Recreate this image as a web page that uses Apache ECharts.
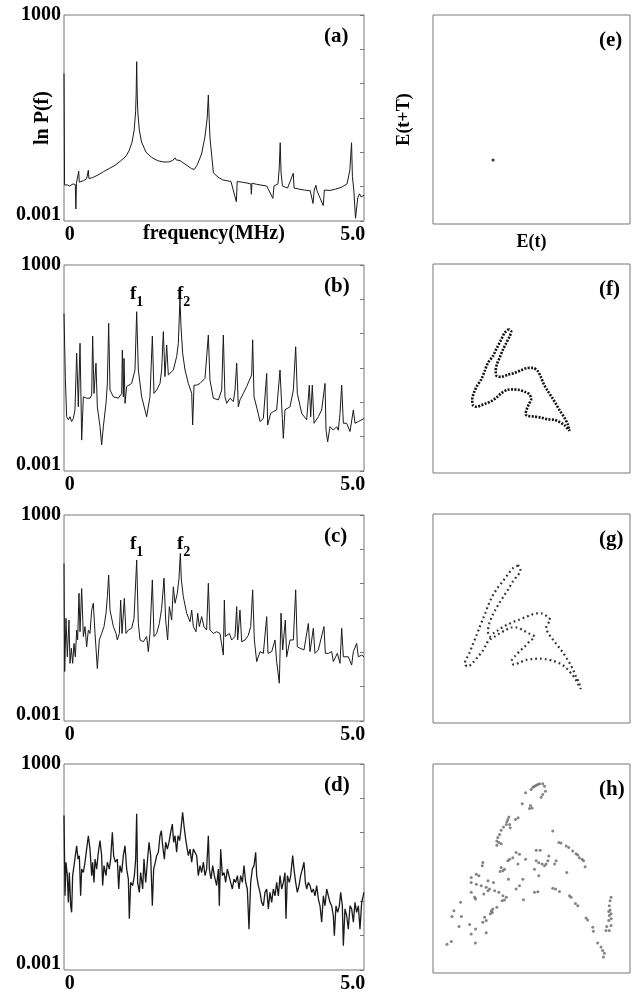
<!DOCTYPE html>
<html><head><meta charset="utf-8">
<script src="https://cdn.jsdelivr.net/npm/echarts@6/dist/echarts.min.js"></script>
<style>html,body{margin:0;padding:0;background:#fff}#c{width:639px;height:994px}</style>
</head><body><div id="c"></div>
<script>
// ---- spectra: [frequency (MHz), log10 P(f)] ----
const specA = [[-0.100,1.30],[-0.090,-1.95],[-0.040,-1.95],[0.000,-1.98],[0.060,-1.92],[0.100,-1.94],[0.110,-2.65],[0.120,-1.90],[0.150,-1.89],[0.160,-1.55],[0.170,-1.87],[0.250,-1.82],[0.300,-1.77],[0.330,-1.52],[0.340,-1.76],[0.400,-1.74],[0.500,-1.66],[0.600,-1.56],[0.700,-1.47],[0.800,-1.38],[0.900,-1.25],[0.950,-1.18],[1.000,-1.10],[1.050,-0.95],[1.100,-0.72],[1.140,-0.35],[1.165,0.18],[1.175,0.70],[1.184,1.64],[1.193,0.70],[1.205,0.15],[1.230,-0.35],[1.270,-0.70],[1.350,-1.00],[1.450,-1.15],[1.550,-1.24],[1.650,-1.28],[1.750,-1.28],[1.820,-1.24],[1.860,-1.16],[1.880,-1.22],[1.950,-1.24],[2.000,-1.30],[2.070,-1.38],[2.150,-1.47],[2.200,-1.50],[2.250,-1.38],[2.330,-1.05],[2.390,-0.55],[2.430,0.00],[2.450,0.67],[2.465,-0.05],[2.480,-0.60],[2.540,-1.60],[2.620,-1.72],[2.700,-1.80],[2.850,-1.85],[2.945,-2.44],[2.960,-1.85],[3.050,-1.87],[3.150,-1.90],[3.200,-1.92],[3.210,-2.22],[3.220,-1.90],[3.300,-1.93],[3.400,-1.96],[3.480,-1.98],[3.590,-2.34],[3.610,-1.98],[3.680,-1.92],[3.700,-1.52],[3.720,-0.72],[3.735,-1.60],[3.760,-1.98],[3.850,-2.04],[3.950,-1.61],[3.965,-2.04],[4.050,-2.07],[4.150,-2.10],[4.250,-2.12],[4.300,-2.49],[4.320,-2.10],[4.350,-1.96],[4.370,-2.12],[4.480,-2.55],[4.500,-2.10],[4.600,-2.11],[4.700,-2.07],[4.800,-2.02],[4.900,-1.92],[4.950,-1.52],[4.980,-0.72],[4.995,-1.70],[5.020,-2.10],[5.050,-2.92],[5.070,-2.88],[5.090,-2.32],[5.120,-2.21],[5.150,-2.30],[5.200,-2.25]];

const specB = [[-0.100,1.59],[-0.076,-0.30],[-0.053,-1.42],[-0.023,-1.51],[0.006,-1.42],[0.035,-1.56],[0.065,-1.47],[0.094,-1.22],[0.124,0.43],[0.153,-1.13],[0.183,0.72],[0.200,-0.84],[0.212,-2.10],[0.242,-0.84],[0.300,-0.88],[0.359,-0.88],[0.389,-0.79],[0.406,0.93],[0.430,-0.74],[0.465,0.14],[0.489,-1.13],[0.536,-1.71],[0.565,-2.24],[0.595,-1.71],[0.642,-1.03],[0.666,-0.45],[0.689,1.30],[0.713,-0.64],[0.772,-0.84],[0.860,-0.88],[0.919,-0.74],[0.931,0.52],[0.948,-0.84],[0.960,0.28],[0.978,-1.03],[1.007,-0.54],[1.095,-0.45],[1.154,-0.06],[1.184,1.64],[1.213,-0.06],[1.272,-0.84],[1.360,-1.42],[1.390,-1.47],[1.419,-0.84],[1.461,0.93],[1.490,-0.74],[1.537,-0.64],[1.596,-0.45],[1.625,-0.06],[1.655,1.06],[1.684,-0.25],[1.714,0.67],[1.743,-0.20],[1.832,-0.06],[1.890,0.33],[1.920,0.72],[1.949,2.03],[1.967,1.20],[1.996,0.43],[2.038,-0.06],[2.097,-0.45],[2.156,-0.74],[2.173,-1.66],[2.197,-0.50],[2.244,-0.50],[2.303,-0.45],[2.391,-0.30],[2.450,0.96],[2.479,-0.35],[2.538,-0.88],[2.627,-0.93],[2.686,-0.64],[2.715,0.96],[2.744,-0.84],[2.774,-1.03],[2.833,-0.88],[2.892,-0.98],[2.921,-0.64],[2.951,0.14],[2.980,-1.13],[3.009,-0.93],[3.068,-0.74],[3.127,-0.54],[3.216,-0.20],[3.233,0.82],[3.257,-0.84],[3.316,-1.22],[3.363,-1.56],[3.422,-1.47],[3.481,-0.16],[3.498,-1.66],[3.551,-1.32],[3.598,-1.27],[3.657,-1.22],[3.716,-0.06],[3.757,-1.47],[3.775,-2.05],[3.804,-1.22],[3.893,-1.13],[3.952,-0.64],[3.993,0.62],[4.022,-0.74],[4.099,-1.32],[4.187,-1.51],[4.234,-0.50],[4.258,-1.42],[4.287,-0.50],[4.317,-1.61],[4.393,-1.42],[4.452,-1.22],[4.511,-0.45],[4.529,-1.81],[4.558,-2.15],[4.599,-1.71],[4.658,-1.81],[4.717,-1.71],[4.747,-1.81],[4.776,-1.32],[4.806,-0.50],[4.835,-1.61],[4.894,-1.61],[4.953,-1.85],[5.012,-1.22],[5.041,-1.61],[5.100,-1.56],[5.200,-1.47]];

const specC = [[-0.100,1.59],[-0.088,-1.56],[-0.065,-0.01],[-0.041,-1.13],[-0.012,-0.06],[0.006,-1.32],[0.030,-0.88],[0.053,-1.32],[0.077,-0.74],[0.100,-1.13],[0.124,-0.35],[0.141,-0.64],[0.165,0.72],[0.183,-0.40],[0.212,0.86],[0.242,-0.54],[0.271,-0.25],[0.300,-0.84],[0.330,-0.35],[0.359,-0.45],[0.389,0.23],[0.418,0.43],[0.448,-0.45],[0.489,-1.47],[0.524,-0.64],[0.565,-0.45],[0.607,-0.25],[0.642,0.14],[0.666,0.62],[0.689,1.25],[0.713,0.23],[0.772,-0.25],[0.819,-0.45],[0.842,-0.64],[0.878,-0.45],[0.901,0.52],[0.925,-0.45],[0.966,0.57],[0.995,-0.45],[1.037,-0.35],[1.095,-0.30],[1.137,-0.01],[1.184,1.69],[1.213,-0.16],[1.243,-0.64],[1.302,-0.69],[1.360,-0.54],[1.390,-0.98],[1.419,-0.45],[1.461,1.11],[1.490,-0.54],[1.537,-0.45],[1.584,-0.16],[1.625,0.28],[1.667,1.16],[1.696,-0.06],[1.731,-0.64],[1.761,0.33],[1.802,-0.06],[1.832,0.91],[1.861,0.43],[1.902,0.72],[1.932,1.16],[1.955,1.88],[1.973,1.11],[2.008,0.62],[2.067,0.14],[2.126,-0.11],[2.156,0.23],[2.185,-0.25],[2.232,-0.40],[2.262,0.14],[2.291,-0.25],[2.332,0.04],[2.373,-0.25],[2.420,-0.35],[2.450,1.01],[2.479,-0.35],[2.538,-0.45],[2.597,-0.40],[2.656,-0.45],[2.715,-1.08],[2.733,0.52],[2.750,-0.54],[2.821,-0.45],[2.862,-0.64],[2.921,-0.54],[2.951,0.33],[2.968,-0.64],[3.009,0.23],[3.039,-0.69],[3.098,-0.64],[3.157,-0.50],[3.198,-0.25],[3.233,0.82],[3.263,-0.64],[3.304,-1.27],[3.363,-0.98],[3.422,-1.03],[3.481,0.04],[3.504,-1.03],[3.569,-0.98],[3.628,-0.64],[3.657,-1.27],[3.704,-1.90],[3.734,0.14],[3.763,-0.93],[3.810,-0.06],[3.834,-1.13],[3.893,-0.64],[3.952,-0.64],[3.993,0.82],[4.022,-0.84],[4.069,-0.88],[4.140,-0.93],[4.217,-0.16],[4.246,-0.98],[4.305,-0.30],[4.334,-1.03],[4.393,-0.93],[4.493,-0.25],[4.517,-1.03],[4.570,-1.03],[4.629,-0.98],[4.658,-1.27],[4.729,-1.03],[4.776,-1.32],[4.806,-0.30],[4.835,-1.13],[4.923,-1.13],[4.982,-1.37],[5.012,-0.98],[5.070,-0.74],[5.100,-1.13],[5.159,-1.08],[5.200,-1.13]];

const specD = [[-0.100,1.50],[-0.082,-0.84],[-0.065,0.14],[-0.041,-0.25],[-0.023,-1.03],[-0.006,-0.16],[0.018,-1.13],[0.035,-1.32],[0.053,-0.25],[0.077,0.04],[0.100,0.33],[0.124,0.62],[0.147,0.23],[0.171,0.33],[0.194,-0.84],[0.212,-0.06],[0.242,-0.16],[0.271,0.14],[0.300,0.52],[0.330,0.91],[0.359,0.52],[0.389,-0.25],[0.406,0.14],[0.430,-0.45],[0.448,0.23],[0.477,-0.06],[0.507,0.43],[0.536,0.77],[0.565,0.33],[0.583,-0.54],[0.607,0.04],[0.642,-0.25],[0.666,0.14],[0.701,-0.06],[0.724,0.23],[0.754,1.01],[0.777,0.33],[0.807,0.14],[0.842,0.23],[0.866,-0.64],[0.889,0.04],[0.919,-0.16],[0.948,0.33],[0.978,0.62],[1.007,-0.06],[1.037,-0.35],[1.054,-1.51],[1.078,-0.45],[1.113,-0.54],[1.143,-0.25],[1.166,0.23],[1.184,1.55],[1.201,-0.45],[1.231,-0.74],[1.254,-0.16],[1.290,-0.64],[1.313,0.23],[1.343,-0.45],[1.372,0.14],[1.402,0.72],[1.431,0.33],[1.461,-1.13],[1.484,-0.06],[1.514,0.14],[1.537,0.33],[1.567,0.43],[1.596,0.91],[1.620,1.06],[1.643,0.62],[1.673,0.23],[1.696,0.72],[1.726,0.52],[1.755,0.72],[1.784,1.01],[1.814,1.25],[1.837,0.72],[1.861,0.91],[1.890,0.43],[1.914,0.91],[1.943,0.77],[1.967,1.11],[1.996,1.59],[2.020,1.20],[2.049,0.82],[2.067,0.62],[2.097,0.33],[2.126,0.52],[2.156,0.14],[2.185,0.52],[2.214,0.43],[2.244,0.33],[2.273,-0.25],[2.303,0.04],[2.332,-0.16],[2.362,0.14],[2.391,-0.25],[2.420,-0.06],[2.450,0.91],[2.468,-0.06],[2.497,-0.35],[2.527,0.04],[2.556,-0.25],[2.597,-0.54],[2.627,-0.06],[2.644,-1.13],[2.668,0.52],[2.697,-0.25],[2.727,-0.16],[2.756,-0.45],[2.786,-0.06],[2.815,-0.25],[2.844,-0.45],[2.874,-0.64],[2.903,-0.35],[2.933,-0.45],[2.962,-0.25],[2.992,-0.64],[3.021,-0.25],[3.051,-0.45],[3.080,0.04],[3.110,-0.45],[3.139,-0.64],[3.168,-1.81],[3.198,-0.45],[3.227,-0.06],[3.257,0.04],[3.286,0.43],[3.304,-0.25],[3.333,-0.54],[3.363,-0.74],[3.392,-1.03],[3.422,-1.13],[3.451,-0.74],[3.481,-0.64],[3.510,-1.22],[3.539,-0.74],[3.569,-1.03],[3.598,-0.64],[3.628,-0.84],[3.657,-0.45],[3.687,-0.84],[3.716,-0.25],[3.746,-0.64],[3.775,-0.45],[3.804,-0.16],[3.822,-1.51],[3.846,-0.25],[3.881,-0.45],[3.905,-0.25],[3.940,0.33],[3.963,-0.06],[3.993,-0.45],[4.022,-0.74],[4.052,-0.54],[4.081,-0.25],[4.111,-0.06],[4.140,0.14],[4.164,-0.45],[4.187,-0.64],[4.217,-0.45],[4.246,-0.54],[4.276,-0.74],[4.305,-0.64],[4.334,-0.84],[4.364,-0.54],[4.393,-0.93],[4.423,-1.13],[4.452,-1.61],[4.482,-0.84],[4.511,-1.13],[4.541,-0.64],[4.570,-0.84],[4.599,-1.03],[4.629,-1.13],[4.658,-1.42],[4.676,-2.00],[4.705,-1.13],[4.735,-1.32],[4.764,-1.13],[4.788,-0.74],[4.817,-1.13],[4.835,-2.29],[4.864,-1.22],[4.894,-1.42],[4.923,-1.81],[4.953,-1.13],[4.982,-1.22],[5.012,-1.61],[5.041,-1.03],[5.070,-1.32],[5.100,-1.13],[5.129,-1.81],[5.159,-1.03],[5.200,-0.74]];

// ---- phase portraits: [E(t), E(t+T)] in arbitrary units 0..100 ----
const pointE = [[30.5, 30.6]];

const loopF = [[38.5,68.9],[36.3,67.0],[34.6,63.8],[32.4,59.8],[30.4,55.9],[27.9,52.7],[26.2,48.7],[24.5,44.8],[22.3,41.6],[20.8,38.4],[19.9,35.2],[20.3,32.4],[22.0,31.7],[24.5,32.4],[27.0,33.3],[29.6,34.4],[32.1,36.0],[34.6,38.1],[37.5,39.7],[40.5,40.0],[43.9,39.7],[47.0,38.7],[49.0,37.6],[49.8,35.2],[48.6,32.9],[47.6,30.5],[47.0,28.1],[48.1,27.3],[51.5,27.0],[54.9,26.5],[58.3,25.7],[61.7,25.4],[64.2,24.4],[66.7,22.9],[69.3,20.2],[68.4,23.3],[66.7,26.5],[64.5,29.7],[62.5,32.9],[60.5,36.0],[58.3,39.2],[56.3,42.4],[54.9,45.6],[53.2,48.7],[50.7,50.3],[47.6,50.2],[44.8,49.2],[41.4,47.9],[38.0,47.0],[34.6,46.0],[32.4,46.3],[31.8,48.7],[32.4,51.9],[33.8,55.1],[35.5,59.0],[37.2,62.2],[38.9,65.4],[39.7,67.8],[38.5,68.9]];

const loopG = [[43.1,75.4],[40.5,74.0],[38.0,71.1],[35.5,67.9],[32.9,64.8],[30.7,61.6],[29.1,58.7],[27.9,56.0],[26.7,52.9],[25.3,49.7],[23.6,45.7],[22.0,41.7],[20.3,37.8],[18.6,33.8],[16.9,30.6],[16.0,28.3],[17.7,27.0],[20.3,29.0],[22.8,31.7],[25.3,34.6],[27.0,37.5],[28.4,39.7],[31.3,41.3],[33.8,42.9],[36.8,44.4],[39.7,45.7],[42.6,45.7],[45.6,44.4],[48.6,42.9],[51.5,41.3],[49.0,39.0],[46.5,36.5],[43.9,34.3],[41.7,32.1],[40.0,29.8],[41.0,27.9],[43.9,28.9],[47.3,30.2],[50.7,30.6],[54.1,30.8],[57.4,30.5],[60.8,29.8],[63.9,28.7],[66.4,27.3],[68.6,25.4],[70.6,23.2],[72.3,21.0],[73.6,18.7],[75.0,16.3],[74.0,19.5],[72.6,22.2],[71.3,25.1],[69.8,27.9],[68.1,30.6],[66.2,33.3],[64.2,35.9],[62.2,38.3],[60.3,40.6],[58.6,42.9],[57.4,45.4],[58.4,47.6],[59.6,49.2],[57.8,51.1],[55.4,52.4],[52.4,52.5],[49.5,51.6],[46.5,50.5],[43.6,49.4],[40.9,48.4],[38.2,47.3],[35.5,46.0],[33.1,44.4],[30.7,42.9],[28.7,41.3],[27.9,44.1],[28.7,48.1],[30.1,51.3],[31.8,54.4],[33.8,57.6],[36.0,60.8],[38.2,64.0],[40.5,67.6],[42.7,70.3],[44.4,72.7],[43.9,74.9],[43.1,75.4]];

const pointsH = [[47.0,86.2],[49.8,87.8],[50.7,88.9],[51.5,89.4],[52.4,89.8],[53.2,90.2],[54.1,90.5],[55.7,90.6],[56.6,89.4],[57.1,87.0],[54.9,84.1],[55.7,85.4],[49.5,80.2],[49.0,78.7],[50.3,79.0],[45.3,81.0],[43.2,74.3],[41.9,73.5],[38.5,74.6],[38.0,73.5],[37.5,72.4],[38.9,71.1],[39.2,69.5],[37.2,71.1],[35.8,69.8],[34.6,68.3],[33.8,66.3],[32.9,64.8],[32.4,63.2],[33.4,62.4],[32.4,61.1],[34.6,61.9],
[60.8,67.9],[63.9,62.4],[65.0,62.2],[67.6,60.8],[68.9,60.0],[70.9,58.4],[72.6,57.1],[73.5,56.5],[74.3,55.2],[75.7,54.4],[76.4,53.7],[77.2,50.8],[67.9,48.1],
[52.4,58.7],[54.4,58.7],[58.8,56.0],[52.4,53.7],[53.7,52.7],[55.4,52.1],[56.6,51.3],[57.4,52.1],[58.3,53.7],[62.5,53.7],[61.7,52.1],[51.5,49.7],[53.7,46.5],[43.9,56.8],[42.2,57.6],[38.9,54.4],[40.5,55.2],[38.0,53.7],[43.1,52.1],[47.0,54.4],[34.6,50.5],[35.5,48.9],[34.1,48.6],[36.3,49.7],[38.3,44.9],[45.6,44.9],[42.2,40.2],[43.9,41.7],[25.3,52.9],[25.0,51.3],[22.0,47.3],[19.4,45.7],[19.4,43.3],[23.3,46.5],[22.0,42.5],[27.9,44.1],[30.7,43.3],[24.5,41.7],[27.0,41.0],[28.7,40.2],[27.9,39.4],[31.3,39.4],[33.4,38.6],[19.4,38.6],[21.1,36.2],[21.6,35.4],[25.8,37.8],[35.5,37.0],[37.2,36.2],[36.3,34.9],[35.1,34.6],[45.9,35.1],[51.5,38.6],[53.2,38.9],[60.8,40.6],[62.2,40.2],[64.2,39.0],[69.3,37.0],[70.1,36.2],[72.3,33.3],[73.5,32.2],[77.7,26.3],[78.5,25.4],[81.1,21.9],[81.4,20.0],[32.4,31.4],[29.6,29.8],[29.1,28.3],[30.4,30.6],[30.1,29.0],[26.2,26.7],[25.3,24.3],[27.0,25.1],[14.4,27.0],[9.6,27.0],[10.6,29.8],[14.0,33.8],[13.2,22.2],[18.6,23.2],[21.6,21.1],[19.4,18.7],[27.0,19.2],[21.5,14.4],[9.3,15.1],[7.1,13.7],
[90.4,36.2],[89.9,34.6],[89.5,32.2],[89.9,30.2],[89.2,29.4],[90.4,28.3],[89.5,27.5],[90.4,25.9],[89.2,25.1],[90.4,22.7],[88.2,22.2],[87.8,20.3],[89.5,20.3],
[83.6,14.3],[85.3,12.4],[86.1,10.8],[87.0,9.5],[86.5,7.6]];

// ---- tick labels ----
const xTickValues = [0, 5];
const xTickLabels = ['0', '5.0'];
const yTickValues = [-3, 3];
const yTickLabels = ['0.001', '1000'];
const panelLabels = ['(a)', '(b)', '(c)', '(d)', '(e)', '(f)', '(g)', '(h)'];

const FONT = '"Liberation Serif","DejaVu Serif",serif';
const spectra = [specA, specB, specC, specD];
const leftTops = [15, 265, 515, 764];
const rightTops = [15, 264, 514, 764];

const grid = [], xAxis = [], yAxis = [], series = [], title = [];
const txt = (size, extra) => Object.assign({fontFamily: FONT, fontSize: size, fontWeight: 'bold', color: '#000'}, extra || {});

leftTops.forEach((t, i) => {
  grid.push({left: 64, top: t, width: 300, height: 206, show: true, borderColor: '#777', borderWidth: 1,
    containLabel: false, outerBoundsMode: 'none'});
  xAxis.push({type: 'value', gridIndex: i, min: -0.1, max: 5.2,
    axisLine: {show: false}, axisTick: {show: false}, splitLine: {show: false},
    axisLabel: Object.assign(txt(20), {customValues: xTickValues, margin: 4,
      formatter: v => xTickLabels[xTickValues.indexOf(v)]}),
    name: i === 0 ? 'frequency(MHz)' : '', nameLocation: 'middle', nameGap: 3, nameMoveOverlap: false,
    nameTextStyle: txt(20)});
});
leftTops.forEach((t, i) => {
  yAxis.push({type: 'value', gridIndex: i, min: -3, max: 3,
    axisLine: {show: false}, axisTick: {show: false}, splitLine: {show: false},
    axisLabel: {customValues: yTickValues, margin: 3,
      formatter: v => v === 3 ? '{t|' + yTickLabels[1] + '}' : '{b|' + yTickLabels[0] + '}',
      rich: {t: txt(20), b: txt(20, {padding: [0, 0, 13, 0]})}},
    name: i === 0 ? 'ln P(f)' : '', nameLocation: 'middle', nameGap: 11, nameMoveOverlap: false,
    nameTextStyle: txt(20)});
});
leftTops.forEach((t, i) => {
  yAxis.push({type: 'value', gridIndex: i, position: 'right', min: -3, max: 3, interval: 1,
    axisLine: {show: false}, splitLine: {show: false}, axisLabel: {show: false},
    axisTick: {show: true, inside: true, length: 4, lineStyle: {color: '#777'}}});
});
rightTops.forEach((t, i) => {
  grid.push({left: 433, top: t, width: 197, height: 209, show: true, borderColor: '#777', borderWidth: 1,
    containLabel: false, outerBoundsMode: 'none'});
  xAxis.push({type: 'value', gridIndex: 4 + i, min: 0, max: 100,
    axisLine: {show: false}, axisTick: {show: false}, splitLine: {show: false}, axisLabel: {show: false},
    name: i === 0 ? 'E(t)' : '', nameLocation: 'middle', nameGap: 9, nameMoveOverlap: false, nameTextStyle: txt(18)});
  yAxis.push({type: 'value', gridIndex: 4 + i, min: 0, max: 100,
    axisLine: {show: false}, axisTick: {show: false}, splitLine: {show: false}, axisLabel: {show: false},
    name: i === 0 ? 'E(t+T)' : '', nameLocation: 'middle', nameGap: 20, nameMoveOverlap: false, nameTextStyle: txt(18)});
});

spectra.forEach((d, i) => {
  series.push({type: 'line', xAxisIndex: i, yAxisIndex: i, data: d, symbol: 'none',
    lineStyle: {color: '#1a1a1a', width: i === 3 ? 1.3 : 1}, silent: true, clip: true});
});
series.push({type: 'scatter', xAxisIndex: 4, yAxisIndex: 8, data: pointE, symbolSize: 3, itemStyle: {color: '#000'}, silent: true});
series.push({type: 'line', xAxisIndex: 5, yAxisIndex: 9, data: loopF, symbol: 'none', smooth: 0.3,
  lineStyle: {color: '#111', width: 2.6, type: [2, 1.4]}, silent: true});
series.push({type: 'line', xAxisIndex: 6, yAxisIndex: 10, data: loopG, symbol: 'none', smooth: 0.3,
  lineStyle: {color: '#333', width: 2.2, type: [1.8, 3]}, silent: true});
series.push({type: 'scatter', xAxisIndex: 7, yAxisIndex: 11, data: pointsH, symbolSize: 3, itemStyle: {color: '#666'}, silent: true});

leftTops.forEach((t, i) => title.push({text: panelLabels[i], left: 324, top: t + 11, padding: 0, textStyle: txt(21)}));
rightTops.forEach((t, i) => title.push({text: panelLabels[4 + i], left: 599, top: t + 15, padding: 0, textStyle: txt(21)}));
const subRich = {f: txt(19, {verticalAlign: 'bottom', padding: [0, 0, 5, 0]}), s: txt(14, {verticalAlign: 'bottom'})};
[265, 515].forEach(t => {
  title.push({text: '{f|f}{s|1}', left: 130, top: t + 20, padding: 0, textStyle: {rich: subRich}});
  title.push({text: '{f|f}{s|2}', left: 177, top: t + 20, padding: 0, textStyle: {rich: subRich}});
});

const chart = echarts.init(document.getElementById('c'), null, {renderer: 'canvas'});
chart.setOption({backgroundColor: '#fff', animation: false, title, grid, xAxis, yAxis, series});
</script></body></html>
